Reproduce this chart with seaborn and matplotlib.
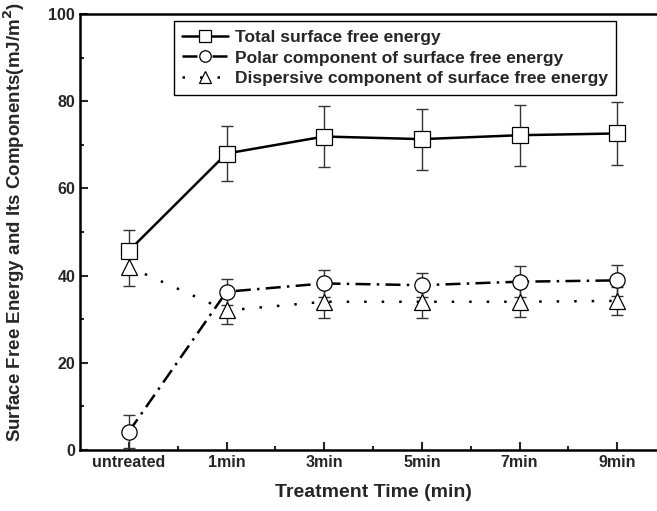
import pandas as pd
import matplotlib
matplotlib.use("Agg")
import matplotlib.pyplot as plt
import seaborn as sns
from matplotlib.ticker import MultipleLocator
from matplotlib.font_manager import FontProperties

# datos
times = ['untreated', '1min', '3min', '5min', '7min', '9min']
total = [45.7, 68.0, 71.9, 71.3, 72.2, 72.6]
total_err = [4.7, 6.2, 7.0, 7.0, 7.0, 7.2]
polar = [4.2, 36.3, 38.2, 37.8, 38.6, 38.9]
polar_err = [3.8, 3.0, 3.1, 2.8, 3.6, 3.5]
disp = [42.0, 32.0, 34.0, 34.0, 34.0, 34.2]
disp_err = [4.5, 3.0, 3.7, 3.7, 3.4, 3.2]

labels = ['Total surface free energy',
          'Polar component of surface free energy',
          'Dispersive component of surface free energy']

sns.set_theme(style="ticks")
plt.rcParams['font.family'] = ['Liberation Sans', 'DejaVu Sans']
plt.rcParams['font.weight'] = 'bold'

fig = plt.figure(figsize=(6.57, 5.11), dpi=100)
ax = fig.add_axes([0.1218, 0.1194, 0.892, 0.8532])

pos = list(range(len(times)))
series = [
    (total, total_err, labels[0], 's', '-'),
    (polar, polar_err, labels[1], 'o', (0, (6, 2.5, 1, 2.5))),
    (disp, disp_err, labels[2], '^', (0, (1, 6))),
]

for vals, err, lab, mk, ls in series:
    df = pd.DataFrame({'pos': pos, 'val': vals})
    ax.errorbar(df['pos'], df['val'], yerr=err, fmt='none', ecolor='#333333',
                elinewidth=1, capsize=4, capthick=1, zorder=2)
    sns.lineplot(data=df, x='pos', y='val', ax=ax, color='black', lw=1.8,
                 linestyle=ls, marker=mk, markersize=11, markerfacecolor='white',
                 markeredgecolor='black', markeredgewidth=0.9, label=lab, zorder=3)

ax.set_xlim(-0.5, 5.5)
ax.set_ylim(0, 100)
ax.set_xticks(pos)
ax.set_xticklabels(times)
ax.set_xticks([p + 0.5 for p in pos[:-1]], minor=True)
ax.yaxis.set_major_locator(MultipleLocator(20))
ax.yaxis.set_minor_locator(MultipleLocator(10))
ax.tick_params(which='both', direction='in', width=1.5, labelsize=11.5)
ax.tick_params(which='major', length=6)
ax.tick_params(which='minor', length=3)
for lbl in ax.get_xticklabels() + ax.get_yticklabels():
    lbl.set_fontweight('bold')
for s in ax.spines.values():
    s.set_linewidth(1.8)
    s.set_color('black')

ax.set_xlabel('Treatment Time (min)', fontsize=14, fontweight='bold', labelpad=10)
ax.set_ylabel('Surface Free Energy and Its Components(mJ/m$^\\mathbf{2}$)',
              fontsize=13.5, fontweight='bold')
ax.yaxis.set_label_coords(-0.09, 0.524)

# leyenda con recuadro negro, esquinas rectas
leg_font = FontProperties(family='Liberation Sans', weight='bold', size=12.5)
leg = ax.legend(loc='upper left', bbox_to_anchor=(0.16, 0.984), borderaxespad=0,
                fancybox=False, edgecolor='black', framealpha=1, prop=leg_font,
                handlelength=2.6, handletextpad=0.4, borderpad=0.5,
                labelspacing=0.32, markerscale=0.75)
leg.get_frame().set_linewidth(1)

fig.savefig('out.png', dpi=100)
